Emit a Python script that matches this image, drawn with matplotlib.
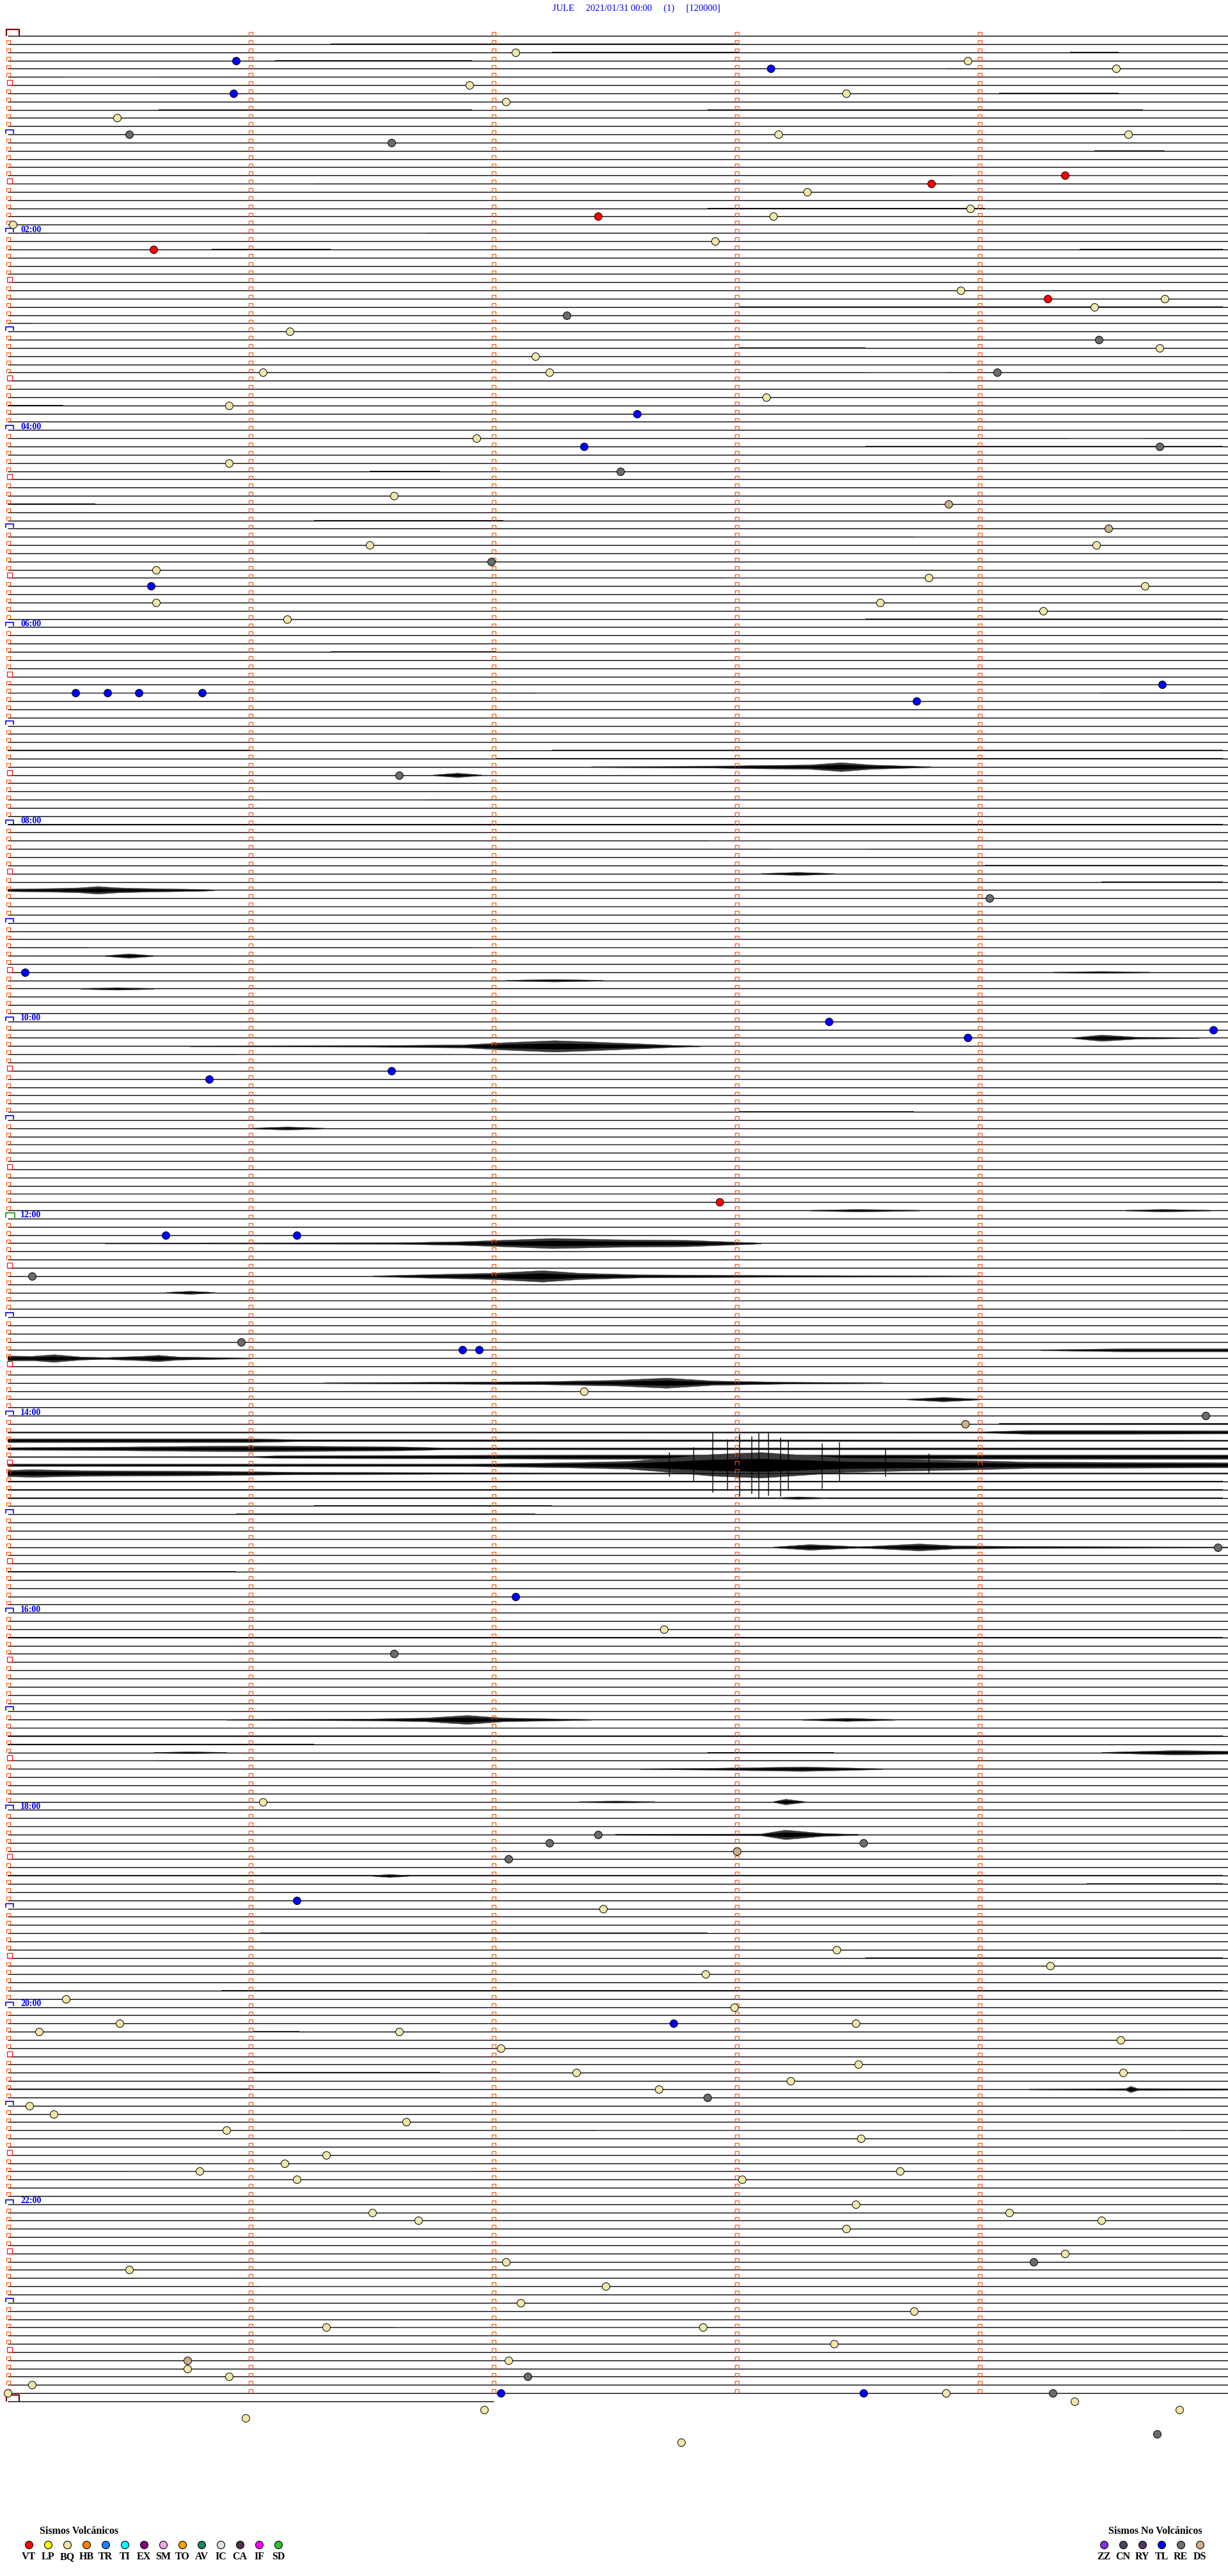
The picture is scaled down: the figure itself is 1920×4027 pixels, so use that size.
import matplotlib.pyplot as plt
import numpy as np
from matplotlib.path import Path

station = 'JULE'
start_label = '2021/01/31 00:00'
page = '(1)'
scale_label = '[120000]'

n_lines = 288            # 5-minute traces from 00:00 to 24:00
last_line_len = 2.0      # minutes recorded on the trailing 24:00 trace
hour_labels = ['%02d:00' % h for h in range(2, 24, 2)]

# event marks, minutes after 00:00
vt_min = [89.35, 93.80, 112.43, 130.60, 164.28, 712.93]
tl_min = [15.94, 23.14, 35.93, 232.59, 252.37, 335.59, 399.75, 400.28, 400.41,
          400.54, 400.80, 408.74, 570.07, 603.38, 609.96, 613.95, 631.58,
          635.83, 730.65, 731.19, 801.87, 801.94, 952.09, 1136.19, 1212.74,
          1437.03, 1438.52]
re_min = [60.50, 66.58, 172.30, 189.49, 209.07, 254.74, 267.52, 321.99,
          451.61, 529.04, 755.10, 795.96, 844.93, 924.98, 986.59, 1097.43,
          1102.23, 1103.52, 1112.06, 1257.88, 1359.22, 1427.14, 1439.30,
          1464.73]
ds_min = [288.87, 304.53, 848.94, 1108.00, 1415.74]
bq_min = [12.09, 18.95, 24.56, 31.90, 38.45, 42.05, 50.45, 63.17, 64.61,
          98.29, 108.96, 113.15, 115.02, 127.91, 158.92, 164.76, 169.47,
          181.16, 194.74, 197.17, 206.05, 207.23, 223.12, 225.91, 246.93,
          260.91, 281.59, 311.49, 314.48, 325.61, 333.79, 339.68, 345.61,
          348.59, 354.26, 356.15, 827.37, 972.70, 1076.05, 1142.45, 1168.41,
          1179.29, 1182.87, 1195.24, 1202.99, 1210.46, 1213.49, 1215.13,
          1216.61, 1224.58, 1227.03, 1238.50, 1242.34, 1244.59, 1248.22,
          1252.68, 1260.09, 1265.19, 1271.64, 1275.90, 1283.51, 1291.31,
          1296.14, 1300.79, 1303.67, 1306.19, 1308.02, 1323.49, 1326.50,
          1329.12, 1331.69, 1334.50, 1338.45, 1354.35, 1357.05, 1360.50,
          1372.46, 1382.11, 1388.73, 1396.31, 1397.86, 1408.40, 1417.06,
          1420.74, 1425.91, 1430.10, 1435.00, 1438.86, 1444.39, 1446.96,
          1449.82, 1450.98, 1467.77]

# signal bursts: trace, minute points, half-amplitude (px) at those points
bursts = [
    (89, [2.4, 2.9, 3.05, 3.3, 3.43, 3.55, 3.8], [0.6, 1.5, 2.5, 3.5, 7, 3.5, 0.6]),
    (90, [1.75, 1.85, 1.95], [0.6, 3.5, 0.6]),
    (102, [3.1, 3.25, 3.4], [0.6, 2.5, 0.6]),
    (104, [0, 0.2, 0.3, 0.37, 0.45, 0.55, 0.8, 0.85], [2, 3, 4, 6, 4, 3, 1.5, 0.6]),
    (112, [0.4, 0.5, 0.6], [0.6, 3.5, 0.6]),
    (114, [4.3, 4.5, 4.7], [0.6, 1.5, 0.6]),
    (115, [2.05, 2.25, 2.45], [0.6, 2, 0.6]),
    (116, [0.3, 0.45, 0.6], [0.6, 2, 0.6]),
    (122, [4.38, 4.5, 4.65, 4.9], [0.6, 5, 1.5, 0.6]),
    (123, [0.75, 1.5, 1.88, 2.05, 2.25, 2.4, 2.6, 2.75, 2.85], [0.6, 1.2, 2.5, 6, 9, 7, 4, 1.5, 0.6]),
    (133, [1.0, 1.15, 1.3], [0.6, 2.5, 0.6]),
    (143, [3.3, 3.5, 3.75], [0.6, 2, 0.6]),
    (143, [4.6, 4.75, 4.95], [0.6, 2, 0.6]),
    (147, [0.4, 1.6, 1.87, 2.1, 2.24, 2.5, 2.8, 3.05, 3.1], [0.6, 1.2, 3, 6, 8, 6, 5, 1.5, 0.6]),
    (151, [1.5, 1.75, 2.0, 2.2, 2.35, 2.6, 3.1, 4.0], [0.6, 3, 5, 9, 5, 2.5, 1.5, 0.6]),
    (153, [0.65, 0.75, 0.85], [0.6, 2.5, 0.6]),
    (160, [4.25, 4.6, 5.02], [0.6, 2.5, 2.5]),
    (161, [0, 0.1, 0.19, 0.3, 0.4, 0.55, 0.62, 0.7, 0.85, 1.0], [4, 3.5, 6, 2.5, 1.5, 3.5, 5, 2.5, 1.5, 0.6]),
    (164, [1.3, 1.63, 2.2, 2.5, 2.71, 2.9, 3.21, 3.6], [0.6, 1.2, 2.5, 4.5, 8, 3.5, 1.5, 0.6]),
    (166, [3.7, 3.85, 4.0], [0.6, 3.5, 0.6]),
    (169, [4.08, 5.02], [1.2, 1.2]),
    (170, [0, 4.0, 4.2, 4.5, 5.02], [0.9, 0.9, 3, 3, 2.5]),
    (171, [0, 1.0, 1.2, 5.02], [3, 3, 1.5, 1]),
    (172, [0, 0.5, 0.75, 1.0, 1.3, 1.63, 1.8, 5.02], [2, 3, 4, 4.5, 4, 3, 1.5, 1.5]),
    (173, [0, 1.0, 1.1, 2.0, 2.4, 5.02], [0.6, 0.6, 2, 3, 3.5, 3.5]),
    (174, [0, 1.9, 2.3, 2.55, 2.72, 2.9, 3.1, 3.3, 3.45, 3.7, 4.0, 4.2, 5.02],
     [2, 2, 4, 6, 11, 17, 20, 15, 11, 9, 7, 5, 4]),
    (175, [0, 0.1, 0.3, 0.84, 1.2, 1.66, 2.2, 5.02], [5, 6, 4.5, 3.5, 2, 1.5, 1, 1]),
    (178, [3.16, 3.25, 3.37], [0.6, 2, 0.6]),
    (184, [3.15, 3.3, 3.5, 3.56, 3.75, 3.9, 4.2, 5.02], [0.6, 4.5, 1.2, 2, 5.5, 2.5, 1.5, 0.6]),
    (205, [0.9, 1.5, 1.72, 1.89, 2.04, 2.4], [0.6, 1.5, 3, 7, 3, 0.6]),
    (205, [3.27, 3.45, 3.65], [0.6, 2.5, 0.6]),
    (209, [0.6, 0.75, 0.9], [0.6, 1.5, 0.6]),
    (209, [4.5, 4.8, 5.02], [0.6, 3.5, 2.5]),
    (211, [2.6, 2.9, 3.27, 3.4, 3.6], [0.6, 1.5, 3.5, 2.5, 0.6]),
    (215, [2.35, 2.5, 2.66], [0.6, 1.5, 0.6]),
    (215, [3.15, 3.2, 3.28], [0.6, 4.5, 0.6]),
    (219, [2.5, 3.1, 3.2, 3.35, 3.5], [0.6, 1.5, 7.5, 2.5, 0.6]),
    (224, [1.5, 1.57, 1.65], [0.6, 2.5, 0.6]),
    (250, [4.2, 4.6, 4.62, 4.65, 5.02], [0.6, 1.5, 5, 1.5, 1.2]),
]

# large spikes of the 14:30 event (trace 174): minute, px above, px below
spike_line = 174
spike_m = [2.72, 2.82, 2.90, 2.96, 3.01, 3.06, 3.09, 3.13, 3.18, 3.21, 3.35, 3.42, 3.61, 3.79]
spike_up = [20, 28, 52, 40, 49, 45, 50, 50, 43, 38, 34, 36, 25, 18]
spike_down = [18, 25, 43, 40, 49, 45, 52, 48, 49, 40, 37, 25, 18, 12]

# background noise stretches: trace, from minute, to minute, half-amplitude px
quiet_noise = [
    (1, 1.33, 3.01, 0.6), (2, 2.24, 3.01, 0.6), (2, 4.37, 4.57, 0.6), (3, 1.10, 1.91, 0.6),
    (4, 3.14, 3.86, 0.6), (5, 0.23, 0.62, 0.6), (7, 4.08, 4.57, 0.6), (9, 0.62, 1.91, 0.6),
    (9, 2.88, 4.67, 0.6), (14, 4.47, 4.76, 0.6), (17, 3.89, 5.0, 0.6), (18, 0.0, 1.26, 0.6),
    (21, 2.88, 4.02, 0.6), (24, 0.16, 1.72, 0.6), (26, 0.84, 1.33, 0.6), (26, 4.41, 5.0, 0.6),
    (33, 3.01, 5.0, 0.6), (35, 0.10, 1.78, 0.6), (38, 3.01, 3.53, 0.6), (41, 2.24, 3.01, 0.6),
    (41, 3.53, 3.86, 0.6), (45, 0.0, 0.23, 0.6), (49, 4.37, 4.67, 0.6), (50, 3.53, 5.0, 0.6),
    (53, 1.49, 1.78, 0.6), (57, 0.0, 0.36, 0.6), (59, 1.26, 2.04, 0.6), (61, 3.73, 5.0, 0.6),
    (66, 2.95, 5.0, 0.6), (71, 3.53, 5.0, 0.6),
    (75, 1.33, 2.01, 1.0), (80, 0.0, 0.81, 0.6), (80, 2.17, 4.50, 0.6), (87, 0.0, 1.0, 0.6),
    (87, 2.24, 5.0, 0.6), (88, 2.01, 5.0, 0.6), (93, 1.04, 1.72, 0.6), (96, 0.0, 5.0, 0.5),
    (98, 2.88, 5.0, 0.6), (99, 3.14, 3.53, 0.6), (101, 4.02, 5.0, 0.9), (103, 4.5, 5.0, 0.6),
    (106, 0.0, 5.0, 0.5), (111, 0.33, 1.0, 0.6), (111, 1.91, 5.0, 0.6), (124, 0.94, 5.0, 0.6),
    (131, 3.01, 3.73, 0.6), (135, 0.0, 5.0, 0.5), (141, 0.0, 5.0, 0.5),
    (154, 0.0, 5.0, 0.5), (176, 0.0, 5.0, 0.6), (177, 0.0, 5.0, 0.6), (178, 0.0, 5.0, 0.6),
    (179, 1.26, 2.24, 0.9), (180, 0.94, 2.17, 0.9), (187, 0.0, 0.94, 0.9),
    (195, 0.0, 5.0, 0.5), (206, 0.0, 5.0, 0.5), (207, 0.0, 5.0, 0.5), (208, 0.0, 1.26, 0.6),
    (209, 2.88, 3.4, 0.9), (210, 0.0, 0.62, 0.6), (218, 0.0, 5.0, 0.5), (219, 2.5, 3.5, 0.9),
    (224, 0.0, 5.0, 0.8), (225, 4.44, 5.0, 0.6), (231, 1.04, 2.88, 0.6), (234, 3.53, 5.0, 0.6),
    (238, 0.88, 5.0, 0.5), (243, 1.01, 1.2, 1.2), (248, 1.01, 1.78, 0.9), (250, 0.0, 1.0, 0.6),
    (255, 2.43, 4.83, 0.6), (260, 0.49, 1.91, 0.6), (274, 1.04, 2.04, 0.6), (279, 1.59, 2.88, 0.6),
]

volc_codes = ['VT', 'LP', 'BQ', 'HB', 'TR', 'TI', 'EX', 'SM', 'TO', 'AV', 'IC', 'CA', 'IF', 'SD']
volc_colors = ['#FF0000', '#FFFF00', '#EFE6A8', '#FF8000', '#2080FF', '#00FFFF', '#800080',
               '#F0A8E8', '#FFA000', '#208060', '#E0E0E0', '#503050', '#FF00FF', '#30C030']
nonvolc_codes = ['ZZ', 'CN', 'RY', 'TL', 'RE', 'DS']
nonvolc_colors = ['#8030E0', '#504060', '#503860', '#0000FF', '#707070', '#D0B088']

# ---------------- drawing ----------------
W, H = 1920, 4027
PX = 12.84            # pixels between traces
PX_MIN = 380          # pixels per minute
X0, Y0 = 12, 56       # pixel position of minute 0 on the first trace

serif = ['Liberation Serif', 'DejaVu Serif']
fig = plt.figure(figsize=(W / 100, H / 100), dpi=100)
fig.patch.set_facecolor('white')
ax = fig.add_axes([0, 0, 1, 1])
ax.set_xlim(-X0 / PX_MIN, (W - X0) / PX_MIN)
ax.set_ylim((H - Y0) / PX, -Y0 / PX)
ax.axis('off')

rows = np.arange(n_lines)
ax.hlines(rows, 0, 5.03, color='black', lw=1.0, zorder=2)
ax.hlines(n_lines, 0, last_line_len, color='black', lw=1.0, zorder=2)

for row, m0, m1, a in quiet_noise:
    ax.fill_between([m0, m1], row - a / PX, row + a / PX, color='#202020', lw=0, zorder=2)

# outer envelope in dark grey, denser core in black
for row, m, a in bursts:
    a = np.asarray(a, dtype=float) / PX
    ax.fill_between(m, row - a, row + a, color='#3a3a3a', lw=0.3, zorder=2)
    ax.fill_between(m, row - 0.5 * a, row + 0.5 * a, color='black', lw=0, zorder=2)

ax.vlines(spike_m, spike_line - np.array(spike_up) / PX,
          spike_line + np.array(spike_down) / PX, color='black', lw=1.0, zorder=2)

# minute ticks and trace-start marks
cap = Path([(-1, -1), (-1, 1), (1, 1), (1, -1)],
           [Path.MOVETO, Path.LINETO, Path.LINETO, Path.LINETO])
flat_cap = Path([(-1, -0.5), (-1, 0.5), (1, 0.5), (1, -0.5)],
                [Path.MOVETO, Path.LINETO, Path.LINETO, Path.LINETO])
orange = '#FF4A00'

mx, my = np.meshgrid(np.arange(1, 5), rows)
ax.plot(mx.ravel(), my.ravel() - 0.22, ls='none', marker=cap, ms=4,
        mfc='none', mec=orange, mew=0.8, zorder=3)

plain = rows[rows % 6 != 0]
ax.plot(np.zeros(len(plain)) + 0.003, plain - 0.22, ls='none', marker=cap, ms=4,
        mfc='none', mec=orange, mew=0.8, zorder=3)

half = rows[rows % 12 == 6]
ax.plot(np.zeros(len(half)) + 0.007, half - 0.31, ls='none', marker='s', ms=5.8,
        mfc='none', mec='#FF0000', mew=0.8, zorder=3)

hours = rows[(rows % 12 == 0) & (rows != 0) & (rows != 144)]
ax.plot(np.zeros(len(hours)) + 0.008, hours - 0.32, ls='none', marker=flat_cap, ms=8.6,
        mfc='none', mec='#0000FF', mew=1.2, zorder=3)
ax.plot([0.01], [144 - 0.38], ls='none', marker=flat_cap, ms=10.5,
        mfc='none', mec='#008000', mew=1.1, zorder=3)
ax.plot([0.02, 0.02], [0 - 0.4, n_lines - 0.4], ls='none', marker=flat_cap, ms=15,
        mfc='none', mec='#8B0000', mew=1.6, zorder=3)

for k, lab in enumerate(hour_labels):
    ax.text(0.053, 24 * (k + 1) - 0.12, lab, color='#0000FF', fontsize=10,
            fontweight='bold', family=serif, va='baseline', ha='left', zorder=4)

# events
for times, color in [(bq_min, '#EFE6A8'), (ds_min, '#C9AE8A'), (re_min, '#6B6B6B'),
                     (tl_min, '#0000FF'), (vt_min, '#FF0000')]:
    t = np.asarray(times)
    row = np.floor(t / 5)
    ax.plot(t - 5 * row, row, ls='none', marker='o', ms=8.6, mfc=color,
            mec='black', mew=0.7, zorder=5)

# title
fig.text(995 / W, 1 - 13 / H,
         '%s     %s     %s     %s' % (station, start_label, page, scale_label),
         color='#0000FF', fontsize=10.5, family=serif, ha='center', va='center')

# legend (pixel layout)
lax = fig.add_axes([0, 0, 1, 1], facecolor='none')
lax.set_xlim(0, W)
lax.set_ylim(H, 0)
lax.axis('off')

lx = 45 + 30 * np.arange(len(volc_codes))
lax.text(124, 3957, 'Sismos Volcánicos', fontsize=11.5, fontweight='bold',
         family=serif, ha='center', va='center')
for x, c, code in zip(lx, volc_colors, volc_codes):
    lax.plot(x, 3978, 'o', ms=8.6, mfc=c, mec='black', mew=0.8)
    lax.text(x, 3997, code, fontsize=11.5, fontweight='bold', family=serif,
             ha='center', va='center')

rx = 1726 + 30 * np.arange(len(nonvolc_codes))
lax.text(1806, 3957, 'Sismos No Volcánicos', fontsize=11.5, fontweight='bold',
         family=serif, ha='center', va='center')
for x, c, code in zip(rx, nonvolc_colors, nonvolc_codes):
    lax.plot(x, 3978, 'o', ms=8.6, mfc=c, mec='black', mew=0.8)
    lax.text(x, 3997, code, fontsize=11.5, fontweight='bold', family=serif,
             ha='center', va='center')

fig.savefig('out.png', dpi=100, facecolor='white')
